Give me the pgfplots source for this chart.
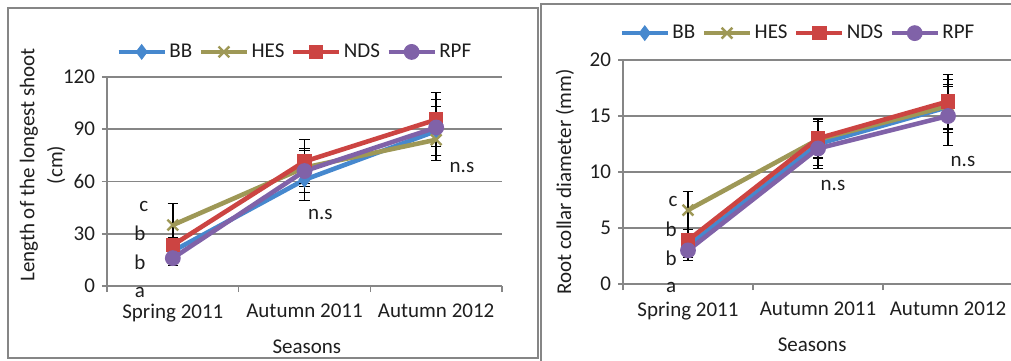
\documentclass[border=0pt]{standalone}
\usepackage{fontspec}
\setmainfont{Carlito}
\usepackage{pgfplots}
\pgfplotsset{compat=1.18}
\definecolor{cBB}{RGB}{70,136,206}
\definecolor{cHES}{RGB}{158,152,86}
\definecolor{cNDS}{RGB}{204,68,66}
\definecolor{cRPF}{RGB}{128,98,168}
\definecolor{gridgray}{RGB}{134,134,134}
\definecolor{txt}{RGB}{30,30,30}
\pgfplotsset{
  panel/.style={
    scale only axis,
    anchor=south west,
    clip=false,
    xmin=-0.5, xmax=2.5,
    ymin=0,
    font=\fontsize{10.5}{12.5}\selectfont\color{txt},
    tick label style={font=\fontsize{10.5}{12.5}\selectfont\color{txt}},
    /pgf/number format/assume math mode=true,
    axis x line*=bottom, axis y line*=left,
    axis line style={draw=gridgray, line width=0.8pt, -},
    tick align=outside,
    xtick={0,1,2},
    xticklabels={Spring 2011, Autumn 2011, Autumn 2012},
    major x tick style={draw=none},
    minor xtick={-0.5,0.5,1.5,2.5},
    minor x tick style={draw=gridgray, line width=0.8pt},
    minor tick length=3pt,
    major tick length=2.5pt,
    y tick style={draw=gridgray, line width=0.8pt},
    ymajorgrids,
    grid style={draw=gridgray, line width=0.8pt},
    xticklabel style={yshift=-3pt},
    legend columns=4,
    legend style={draw=none, fill=none, font=\fontsize{10.5}{12.5}\selectfont\color{txt},
      nodes={inner xsep=1.2pt},
      /tikz/every even column/.append style={column sep=2pt}},
    legend image code/.code={\draw[##1,mark repeat=2,mark phase=2] plot coordinates {(0pt,0pt) (11.5pt,0pt) (23pt,0pt)};},
    every axis plot/.append style={line width=2.3pt},
    error bars/y dir=both,
    error bars/y explicit,
    error bars/error bar style={black, line width=0.75pt, mark size=2.6pt, solid},
  },
  sBB/.style={cBB, mark=diamond*, mark size=3.6pt, mark options={solid, fill=cBB, line width=0.5pt}},
  sHES/.style={cHES, mark=x, mark size=3.8pt, mark options={solid, line width=1.2pt}},
  sNDS/.style={cNDS, mark=square*, mark size=3.4pt, mark options={solid, fill=cNDS, line width=0.5pt}},
  sRPF/.style={cRPF, mark=*, mark size=3.7pt, mark options={solid, fill=cRPF, line width=0.5pt}},
}
\begin{document}
\begin{tikzpicture}
\useasboundingbox (0pt,0pt) rectangle (505.5pt,180pt);
% Left panel
\begin{axis}[panel,
  at={(53.5pt,37pt)}, width=197.5pt, height=104.5pt,
  ymax=120, ytick={0,30,60,90,120},
  ylabel={Length of the longest shoot\\[1.5pt](cm)},
  ylabel style={at={(rel axis cs:-0.163,0.579)}, anchor=center, align=center},
  xlabel={Seasons},
  xlabel style={at={(rel axis cs:0.506,-0.292)}, anchor=center},
  legend style={at={(rel axis cs:0.476,1.12)}, anchor=center},
]
\addplot[sBB] coordinates {(0,20) +- (0,8) (1,61) +- (0,12) (2,89) +- (0,14)};
\addlegendentry{BB}
\addplot[sHES] coordinates {(0,35) +- (0,12.5) (1,68) +- (0,11) (2,84) +- (0,12)};
\addlegendentry{HES}
\addplot[sNDS] coordinates {(0,23.5) +- (0,4) (1,71.5) +- (0,12.5) (2,95.5) +- (0,15.5)};
\addlegendentry{NDS}
\addplot[sRPF] coordinates {(0,16) +- (0,3) (1,66) +- (0,12) (2,91) +- (0,16)};
\addlegendentry{RPF}
\node at (axis cs:-0.22,45.9) {c};
\node at (axis cs:-0.25,30.4) {b};
\node at (axis cs:-0.25,13.8) {b};
\node at (axis cs:-0.25,-4.0) {a};
\node at (axis cs:1.12,41.0) {n.s};
\node at (axis cs:2.196,68.3) {n.s};
\end{axis}
% Right panel
\begin{axis}[panel,
  at={(311.5pt,38pt)}, width=195pt, height=112pt,
  ymax=20, ytick={0,5,10,15,20},
  ylabel={Root collar diameter (mm)},
  ylabel style={at={(rel axis cs:-0.149,0.455)}, anchor=center},
  xlabel={Seasons},
  xlabel style={at={(rel axis cs:0.485,-0.272)}, anchor=center},
  legend style={at={(rel axis cs:0.449,1.12)}, anchor=center},
]
\addplot[sBB] coordinates {(0,3.4) +- (0,1.0) (1,12.5) +- (0,2.2) (2,15.8) +- (0,2.0)};
\addlegendentry{BB}
\addplot[sHES] coordinates {(0,6.6) +- (0,1.7) (1,12.9) +- (0,1.6) (2,15.9) +- (0,2.4)};
\addlegendentry{HES}
\addplot[sNDS] coordinates {(0,3.9) +- (0,1.0) (1,13.0) +- (0,1.8) (2,16.3) +- (0,2.4)};
\addlegendentry{NDS}
\addplot[sRPF] coordinates {(0,3.0) +- (0,0.9) (1,12.1) +- (0,1.5) (2,15.0) +- (0,2.6)};
\addlegendentry{RPF}
\node at (axis cs:-0.115,7.4) {c};
\node at (axis cs:-0.13,4.9) {b};
\node at (axis cs:-0.13,2.3) {b};
\node at (axis cs:-0.13,-0.27) {a};
\node at (axis cs:1.115,8.84) {n.s};
\node at (axis cs:2.115,10.9) {n.s};
\end{axis}
% panel frames
\draw[draw=gridgray, line width=1pt] (4pt,1pt) rectangle (269pt,176pt);
\draw[draw=gridgray, line width=1pt] (270.5pt,-5pt) rectangle (512pt,178pt);
\end{tikzpicture}
\end{document}
